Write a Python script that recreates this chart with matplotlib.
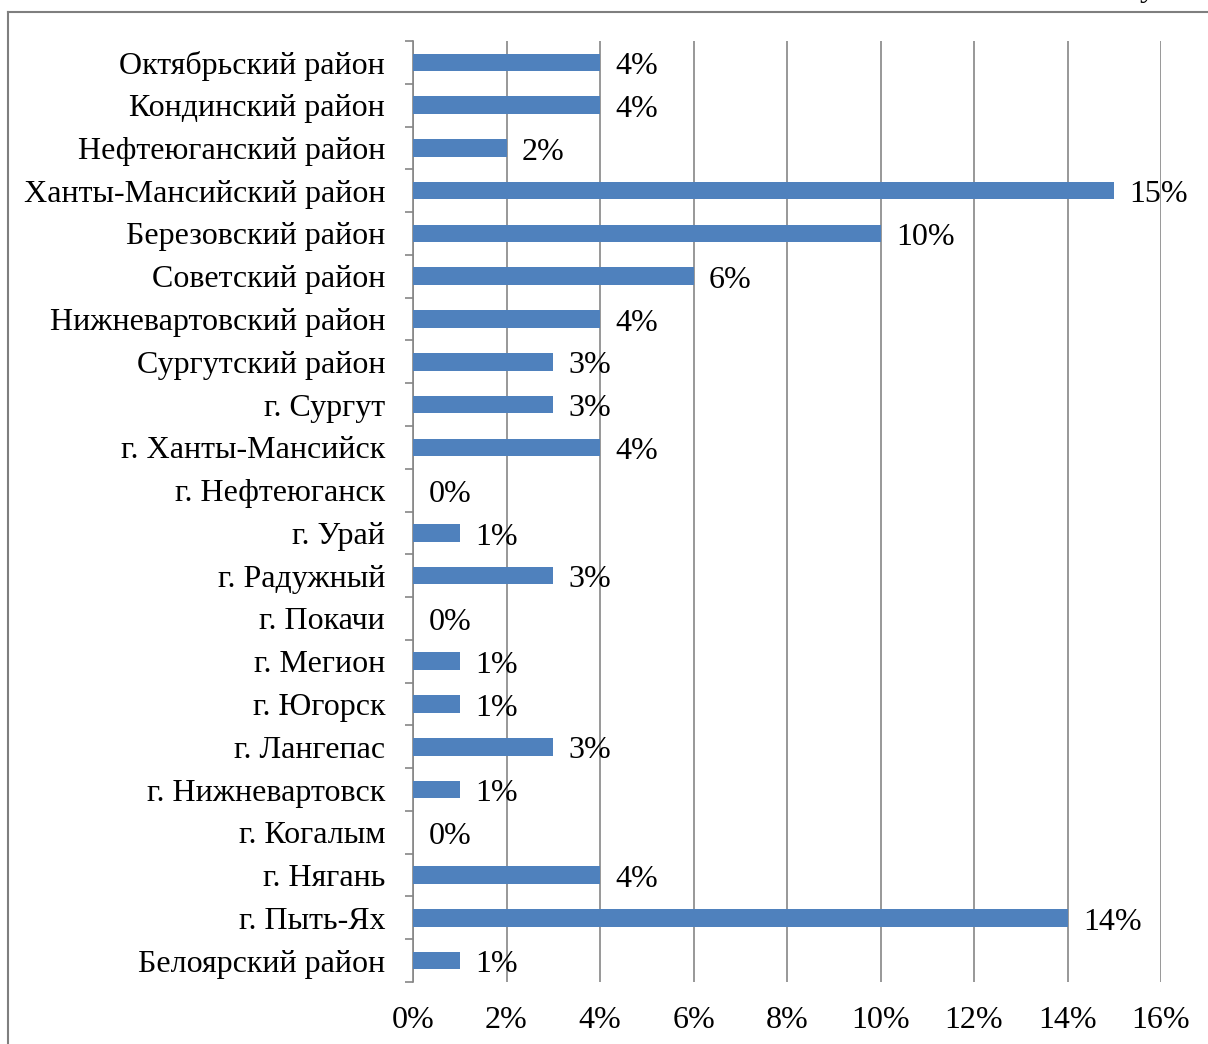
import matplotlib.pyplot as plt
import matplotlib.lines as mlines
import numpy as np

plt.rcParams['font.family'] = ['Liberation Serif', 'DejaVu Serif']

# районы сверху вниз
districts = ['Октябрьский район', 'Кондинский район', 'Нефтеюганский район',
             'Ханты-Мансийский район', 'Березовский район', 'Советский район',
             'Нижневартовский район', 'Сургутский район', 'г. Сургут',
             'г. Ханты-Мансийск', 'г. Нефтеюганск', 'г. Урай', 'г. Радужный',
             'г. Покачи', 'г. Мегион', 'г. Югорск', 'г. Лангепас',
             'г. Нижневартовск', 'г. Когалым', 'г. Нягань', 'г. Пыть-Ях',
             'Белоярский район']
shares = [4, 4, 2, 15, 10, 6, 4, 3, 3, 4, 0, 1, 3, 0, 1, 1, 3, 1, 0, 4, 14, 1]
xticks = [0, 2, 4, 6, 8, 10, 12, 14, 16]

fs = 23
fig = plt.figure(figsize=(12.08, 10.44), dpi=100)
ax = fig.add_axes([413 / 1208, 1 - 982 / 1044, (1161 - 413) / 1208, (982 - 41) / 1044])

n = len(districts)
y = np.arange(n)[::-1]
ax.barh(y, shares, height=0.41, color='#4F81BD', zorder=3)
for yi, v in zip(y, shares):
    ax.annotate('%d%%' % v, (v, yi), xytext=(11, -3), textcoords='offset points',
                ha='left', va='center', fontsize=fs, zorder=4)

ax.set_xlim(0, 16)
ax.set_ylim(-0.5, n - 0.5)
ax.set_xticks(xticks)
ax.set_xticklabels(['%d%%' % t for t in xticks], fontsize=fs)
ax.set_yticks(y)
ax.set_yticklabels(districts, fontsize=fs)
ax.tick_params(axis='y', length=0, pad=20)
ax.tick_params(axis='x', length=0, pad=17)
ax.set_yticks(np.arange(n + 1) - 0.5, minor=True)
ax.tick_params(axis='y', which='minor', length=6, color='#868686', width=1.2)
ax.grid(axis='x', color='#868686', linewidth=1.2, zorder=0)
for s in ['top', 'right', 'bottom']:
    ax.spines[s].set_visible(False)
ax.spines['left'].set_color('#868686')
ax.spines['left'].set_linewidth(1.2)

# рамка рисунка
fig.add_artist(mlines.Line2D([8 / 1208, 8 / 1208], [0, 1 - 12 / 1044], color='#7f7f7f', lw=1.5))
fig.add_artist(mlines.Line2D([8 / 1208, 1], [1 - 12 / 1044, 1 - 12 / 1044], color='#7f7f7f', lw=1.5))
# обрезанная подпись сверху (как в оригинале)
fig.text(1140 / 1208, 1 + 4 / 1044, 'у', fontsize=fs, va='baseline')

fig.savefig('out.png', dpi=100)
